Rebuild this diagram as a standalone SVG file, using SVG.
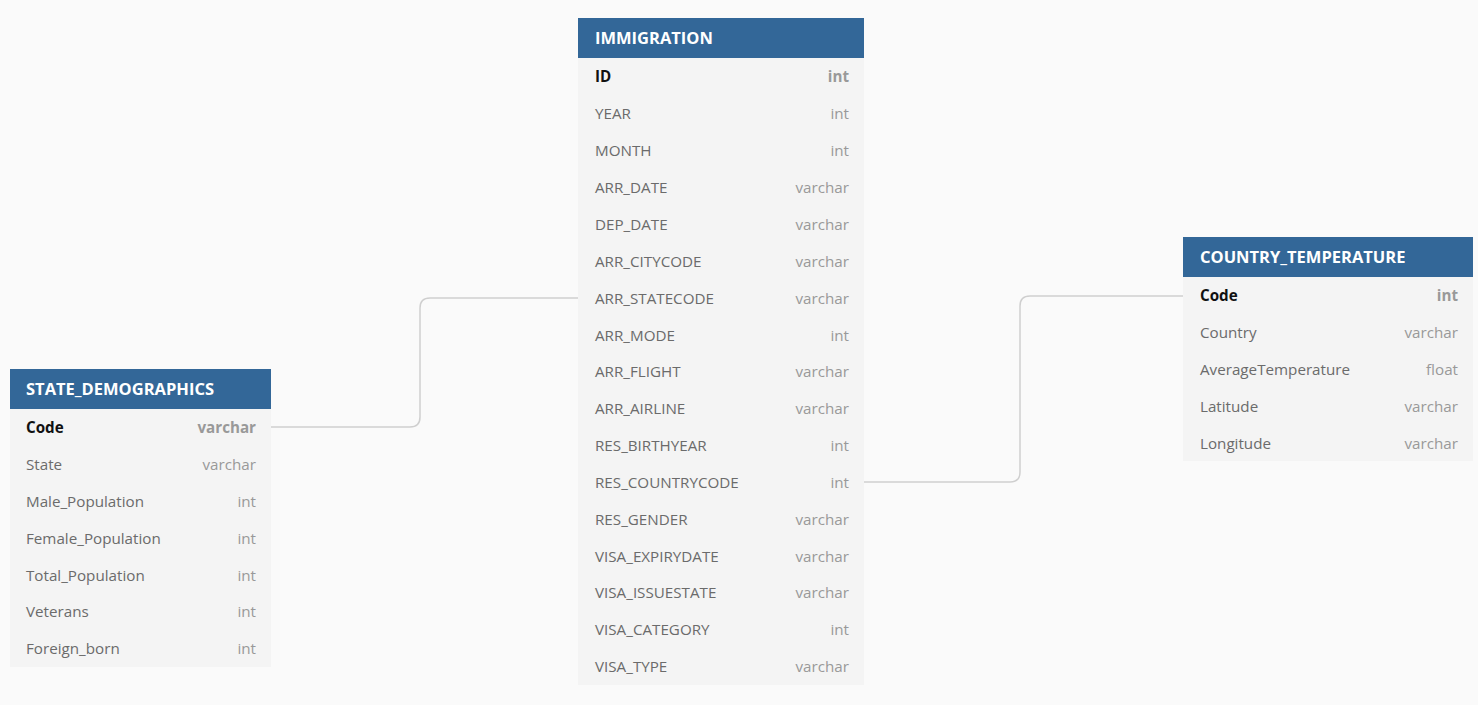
<svg xmlns="http://www.w3.org/2000/svg" width="1478" height="705" viewBox="0 0 1478 705">
<style>
.bg{fill:#fafafa}
.hd{fill:#336798}
.bd{fill:#f4f4f4}
.ht{font-family:"Open Sans","Noto Sans",sans-serif;font-size:16.5px;font-weight:700;fill:#ffffff}
.nm{font-family:"Open Sans","Noto Sans",sans-serif;font-size:15.2px;fill:#6b6b6b}
.ty{font-family:"Open Sans","Noto Sans",sans-serif;font-size:15.2px;fill:#999999;text-anchor:end}
.pk{font-weight:700;fill:#111111}
.pkt{font-weight:700;fill:#999999}
.cn{fill:none;stroke:#cfcfcf;stroke-width:1.5}
</style>
<rect class="bg" x="0" y="0" width="1478" height="705"/>
<g id="connectors">
<path class="cn" d="M271,427 H410 Q420,427 420,417 V308 Q420,298 430,298 H578"/>
<path class="cn" d="M864,482 H1010 Q1020,482 1020,472 V306 Q1020,296 1030,296 H1183"/>
</g>
<g id="immigration">
<rect class="bd" x="578" y="58" width="286" height="627"/>
<rect class="hd" x="578" y="18" width="286" height="40"/>
<text class="ht" x="595" y="44">IMMIGRATION</text>
<text class="nm pk" x="595" y="82">ID</text><text class="ty pkt" x="849" y="82">int</text>
<text class="nm" x="595" y="119">YEAR</text><text class="ty" x="849" y="119">int</text>
<text class="nm" x="595" y="156">MONTH</text><text class="ty" x="849" y="156">int</text>
<text class="nm" x="595" y="193">ARR_DATE</text><text class="ty" x="849" y="193">varchar</text>
<text class="nm" x="595" y="230">DEP_DATE</text><text class="ty" x="849" y="230">varchar</text>
<text class="nm" x="595" y="267">ARR_CITYCODE</text><text class="ty" x="849" y="267">varchar</text>
<text class="nm" x="595" y="304">ARR_STATECODE</text><text class="ty" x="849" y="304">varchar</text>
<text class="nm" x="595" y="341">ARR_MODE</text><text class="ty" x="849" y="341">int</text>
<text class="nm" x="595" y="377">ARR_FLIGHT</text><text class="ty" x="849" y="377">varchar</text>
<text class="nm" x="595" y="414">ARR_AIRLINE</text><text class="ty" x="849" y="414">varchar</text>
<text class="nm" x="595" y="451">RES_BIRTHYEAR</text><text class="ty" x="849" y="451">int</text>
<text class="nm" x="595" y="488">RES_COUNTRYCODE</text><text class="ty" x="849" y="488">int</text>
<text class="nm" x="595" y="525">RES_GENDER</text><text class="ty" x="849" y="525">varchar</text>
<text class="nm" x="595" y="562">VISA_EXPIRYDATE</text><text class="ty" x="849" y="562">varchar</text>
<text class="nm" x="595" y="598">VISA_ISSUESTATE</text><text class="ty" x="849" y="598">varchar</text>
<text class="nm" x="595" y="635">VISA_CATEGORY</text><text class="ty" x="849" y="635">int</text>
<text class="nm" x="595" y="672">VISA_TYPE</text><text class="ty" x="849" y="672">varchar</text>
</g>
<g id="state_demographics">
<rect class="bd" x="10" y="409" width="261" height="258"/>
<rect class="hd" x="10" y="369" width="261" height="40"/>
<text class="ht" x="26" y="395">STATE_DEMOGRAPHICS</text>
<text class="nm pk" x="26" y="433">Code</text><text class="ty pkt" x="256" y="433">varchar</text>
<text class="nm" x="26" y="470">State</text><text class="ty" x="256" y="470">varchar</text>
<text class="nm" x="26" y="507">Male_Population</text><text class="ty" x="256" y="507">int</text>
<text class="nm" x="26" y="544">Female_Population</text><text class="ty" x="256" y="544">int</text>
<text class="nm" x="26" y="581">Total_Population</text><text class="ty" x="256" y="581">int</text>
<text class="nm" x="26" y="617">Veterans</text><text class="ty" x="256" y="617">int</text>
<text class="nm" x="26" y="654">Foreign_born</text><text class="ty" x="256" y="654">int</text>
</g>
<g id="country_temperature">
<rect class="bd" x="1183" y="277" width="290" height="184"/>
<rect class="hd" x="1183" y="237" width="290" height="40"/>
<text class="ht" x="1200" y="263">COUNTRY_TEMPERATURE</text>
<text class="nm pk" x="1200" y="301">Code</text><text class="ty pkt" x="1458" y="301">int</text>
<text class="nm" x="1200" y="338">Country</text><text class="ty" x="1458" y="338">varchar</text>
<text class="nm" x="1200" y="375">AverageTemperature</text><text class="ty" x="1458" y="375">float</text>
<text class="nm" x="1200" y="412">Latitude</text><text class="ty" x="1458" y="412">varchar</text>
<text class="nm" x="1200" y="449">Longitude</text><text class="ty" x="1458" y="449">varchar</text>
</g>
</svg>
